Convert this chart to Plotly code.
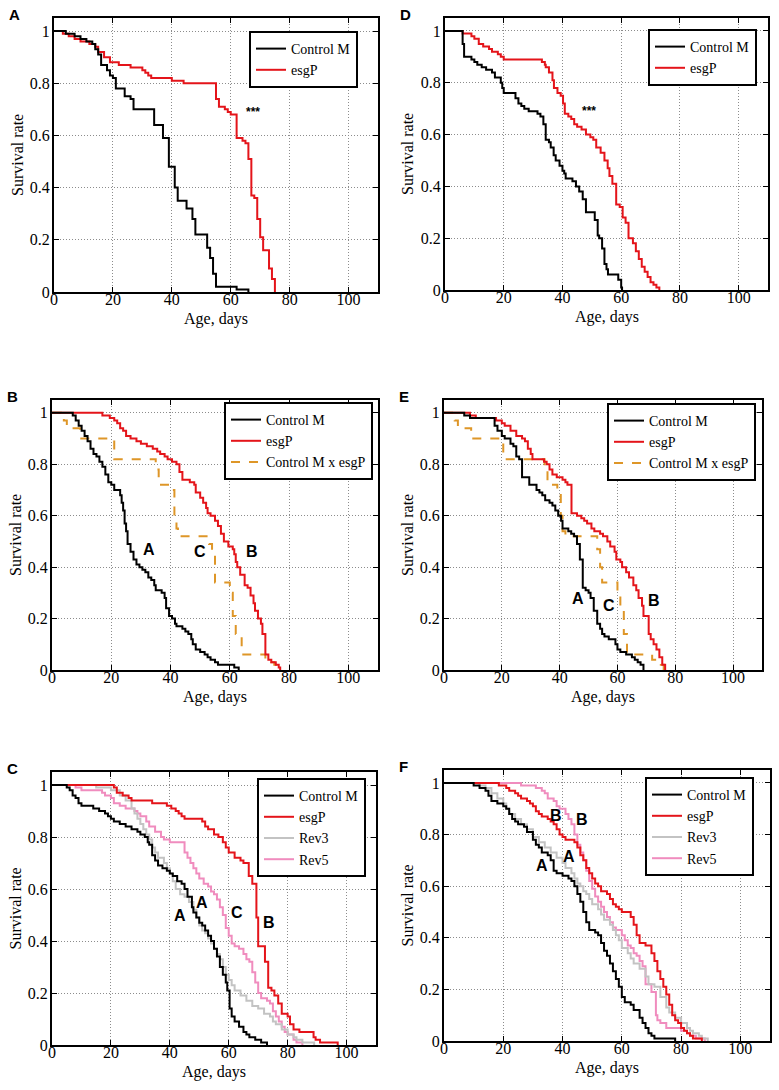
import plotly.graph_objects as go
from plotly.subplots import make_subplots

W, H = 779, 1090
SERIF = "Liberation Serif, Times New Roman, serif"
SANS = "Liberation Sans, Arial, sans-serif"

# survival curves: (age in days, survival rate) at each step
A_CTRL = [(0, 1), (4, 0.99), (7, 0.98), (9, 0.97), (11, 0.96), (13, 0.95), (14, 0.93), (15, 0.91),
          (16, 0.87), (18, 0.85), (19, 0.83), (20, 0.82), (21, 0.78), (24, 0.75), (26, 0.74), (27, 0.70),
          (34, 0.64), (37, 0.59), (39, 0.48), (41, 0.40), (42, 0.35), (45, 0.32), (47, 0.28), (48, 0.22),
          (52, 0.17), (53, 0.13), (54, 0.07), (55, 0.02), (62, 0.01), (66, 0)]
A_ESGP = [(0, 1), (3, 0.99), (5, 0.98), (7, 0.97), (9, 0.96), (12, 0.95), (14, 0.94), (15, 0.92),
          (17, 0.90), (19, 0.88), (22, 0.87), (26, 0.86), (30, 0.85), (31, 0.84), (32, 0.83), (33, 0.82),
          (40, 0.81), (44, 0.80), (55, 0.74), (56, 0.71), (58, 0.70), (59, 0.69), (60, 0.68), (62, 0.59),
          (64, 0.58), (65, 0.57), (66, 0.51), (67, 0.37), (68, 0.36), (69, 0.28), (70, 0.21), (71, 0.16),
          (73, 0.09), (74, 0.05), (75, 0)]

D_CTRL = [(0, 1), (6, 0.95), (6.5, 0.90), (9, 0.89), (10, 0.88), (11, 0.87), (12.5, 0.86), (14, 0.85),
          (16, 0.84), (17, 0.82), (19, 0.80), (19.5, 0.78), (20, 0.76), (24, 0.74), (25, 0.72), (26, 0.71),
          (27, 0.70), (28.5, 0.69), (31.5, 0.68), (32.5, 0.67), (33.5, 0.64), (34.3, 0.58), (35.4, 0.57),
          (36, 0.55), (37, 0.52), (37.7, 0.50), (39, 0.48), (40, 0.46), (40.6, 0.45), (41.1, 0.43),
          (43.4, 0.42), (44.6, 0.40), (45.7, 0.38), (46.9, 0.35), (48, 0.30), (51, 0.27), (52, 0.21),
          (52.5, 0.20), (53.5, 0.16), (54.3, 0.10), (55, 0.08), (55.5, 0.06), (59, 0.04), (60, 0.01), (60.3, 0)]
D_ESGP = [(0, 1), (6, 0.99), (9, 0.98), (10, 0.97), (11.5, 0.95), (13, 0.94), (15, 0.93), (16, 0.92),
          (18, 0.91), (19, 0.90), (20, 0.89), (33, 0.88), (34, 0.87), (34.3, 0.86), (35.4, 0.84), (36.6, 0.81),
          (37.1, 0.78), (38.3, 0.76), (39.4, 0.75), (40.2, 0.72), (40.8, 0.68), (42, 0.67), (43, 0.66),
          (44, 0.64), (45, 0.63), (46.5, 0.62), (48, 0.60), (49.5, 0.59), (50.5, 0.58), (51.5, 0.55),
          (53, 0.53), (54.3, 0.50), (55.4, 0.47), (56, 0.44), (57, 0.41), (58.3, 0.33), (59.5, 0.32),
          (60.5, 0.28), (61.5, 0.26), (62.5, 0.20), (64, 0.18), (65, 0.15), (66, 0.12), (67, 0.09),
          (68, 0.07), (69, 0.05), (70, 0.03), (71, 0.02), (72, 0.01), (73, 0)]

B_CTRL = [(0, 1), (7, 0.99), (8, 0.97), (9, 0.95), (10, 0.93), (11, 0.91), (12, 0.89), (13, 0.86),
          (14, 0.84), (15, 0.83), (16, 0.81), (17, 0.79), (18, 0.76), (19, 0.73), (20, 0.72), (21, 0.70),
          (23, 0.68), (23.5, 0.65), (24, 0.62), (24.5, 0.57), (25, 0.54), (25.5, 0.49), (26.5, 0.46),
          (27.5, 0.43), (28.5, 0.41), (29.5, 0.40), (30.5, 0.39), (31.5, 0.38), (32.5, 0.36), (33.5, 0.35),
          (34.5, 0.33), (35, 0.31), (37, 0.30), (38, 0.28), (38.5, 0.24), (39.5, 0.21), (40.5, 0.20),
          (41.5, 0.18), (42, 0.17), (44, 0.16), (45, 0.15), (46, 0.14), (47, 0.12), (47.5, 0.10),
          (48.5, 0.08), (50, 0.07), (51.5, 0.06), (52.5, 0.05), (53.5, 0.04), (55, 0.03), (56, 0.02),
          (61.5, 0.01), (63, 0)]
B_ESGP = [(0, 1), (17, 0.99), (19.5, 0.98), (21, 0.97), (22, 0.96), (23, 0.94), (24, 0.93), (25, 0.91),
          (26.5, 0.90), (28.5, 0.89), (30, 0.88), (32, 0.87), (34, 0.86), (35.5, 0.85), (36.5, 0.84),
          (38, 0.83), (39, 0.82), (40.5, 0.81), (42, 0.80), (43, 0.77), (44, 0.74), (46.5, 0.73), (48, 0.72),
          (48.5, 0.69), (50, 0.67), (51, 0.65), (52, 0.63), (52.5, 0.61), (53.5, 0.60), (55, 0.58),
          (56, 0.56), (57, 0.53), (58, 0.50), (59.5, 0.48), (61, 0.47), (61.5, 0.45), (62, 0.42),
          (62.5, 0.40), (63.5, 0.37), (65, 0.33), (66, 0.32), (67, 0.29), (68, 0.26), (68.5, 0.23),
          (69.5, 0.20), (70.5, 0.18), (71, 0.14), (72, 0.06), (73, 0.04), (74, 0.03), (75.5, 0.02),
          (76.5, 0.01), (77, 0)]
B_CROSS = [(0, 1), (3, 0.99), (4, 0.97), (5, 0.94), (9.5, 0.90), (21, 0.82), (35, 0.78), (36, 0.72),
           (39.5, 0.70), (41.3, 0.60), (42, 0.55), (42.5, 0.52), (53, 0.49), (54, 0.44), (55, 0.34),
           (60, 0.30), (61, 0.21), (62, 0.14), (64, 0.06), (72, 0.04), (74, 0.03), (75, 0.02), (76, 0)]

E_CTRL = [(0, 1), (7, 0.99), (9, 0.98), (17.5, 0.95), (18.5, 0.93), (20, 0.91), (21, 0.90), (23, 0.88),
          (24, 0.87), (25, 0.83), (26, 0.82), (27, 0.75), (29.5, 0.72), (32, 0.70), (33, 0.69), (34, 0.68),
          (35, 0.66), (36.5, 0.65), (37.5, 0.64), (38.5, 0.62), (39.5, 0.60), (40.5, 0.58), (41, 0.55),
          (43, 0.54), (44, 0.53), (45, 0.52), (46, 0.49), (47, 0.43), (48, 0.32), (49, 0.31), (50, 0.30),
          (50.7, 0.28), (51.8, 0.23), (53, 0.18), (54, 0.16), (54.7, 0.14), (55.5, 0.13), (57, 0.12),
          (59.3, 0.10), (60, 0.08), (61, 0.07), (63, 0.06), (65, 0.05), (66, 0.04), (67, 0.03), (68, 0.02),
          (69, 0)]
E_ESGP = [(0, 1), (9, 0.99), (11, 0.98), (18, 0.97), (20, 0.96), (21, 0.95), (23, 0.93), (25, 0.91),
          (27, 0.90), (28, 0.89), (29, 0.86), (30, 0.84), (30.6, 0.82), (34.6, 0.81), (35.5, 0.80),
          (36.5, 0.78), (37.5, 0.76), (39, 0.75), (41, 0.74), (42, 0.73), (42.7, 0.72), (44.1, 0.61),
          (46, 0.60), (47.5, 0.59), (48.5, 0.58), (49.5, 0.57), (51, 0.55), (52, 0.54), (54, 0.53),
          (55, 0.52), (56.5, 0.50), (57.5, 0.48), (59, 0.46), (59.6, 0.43), (61, 0.42), (61.6, 0.40),
          (63, 0.38), (64, 0.36), (65.5, 0.33), (66.5, 0.31), (67.3, 0.28), (68.5, 0.25), (69, 0.21),
          (70.8, 0.14), (71.5, 0.12), (72.5, 0.10), (73.5, 0.08), (74.5, 0.05), (75.5, 0.02), (76.5, 0)]
E_CROSS = [(0, 1), (3.7, 0.97), (4.8, 0.94), (9.4, 0.90), (20.5, 0.82), (34.8, 0.78), (35.8, 0.72),
           (39.2, 0.70), (40.4, 0.60), (41, 0.54), (42, 0.52), (53, 0.47), (54, 0.40), (54.7, 0.34),
           (60, 0.30), (61, 0.23), (62.2, 0.14), (63.3, 0.06), (72, 0.04), (75, 0.02), (76, 0)]

C_CTRL = [(0, 1), (5, 0.99), (6, 0.98), (7, 0.96), (8, 0.95), (9, 0.93), (10, 0.92), (14, 0.91),
          (16, 0.90), (18, 0.89), (19, 0.88), (20, 0.87), (21, 0.86), (23, 0.85), (25, 0.84), (27, 0.83),
          (29, 0.82), (30, 0.81), (31.5, 0.80), (32.5, 0.78), (33, 0.77), (34, 0.73), (35, 0.71), (36, 0.69),
          (37.5, 0.68), (39, 0.67), (40, 0.66), (41, 0.65), (42.5, 0.63), (44, 0.62), (45, 0.60), (46, 0.57),
          (47.5, 0.53), (48, 0.51), (49, 0.49), (50, 0.47), (51, 0.46), (52, 0.44), (53, 0.42), (54, 0.40),
          (55, 0.37), (56, 0.34), (57, 0.30), (58, 0.27), (59, 0.24), (59.5, 0.21), (60.3, 0.14), (61, 0.11),
          (62, 0.09), (63.5, 0.07), (65, 0.05), (66, 0.04), (67, 0.03), (69, 0.02), (71, 0.01), (73, 0)]
C_ESGP = [(0, 1), (21, 0.99), (22, 0.97), (24, 0.96), (26, 0.95), (27, 0.94), (34, 0.93), (39, 0.92),
          (40.5, 0.91), (42, 0.90), (43, 0.89), (44, 0.88), (45, 0.87), (51, 0.86), (52, 0.84), (53, 0.83),
          (55, 0.81), (56.5, 0.80), (58, 0.78), (59, 0.76), (60, 0.74), (62, 0.72), (64, 0.71), (65, 0.70),
          (66.8, 0.65), (68, 0.62), (69.4, 0.49), (70, 0.38), (72.3, 0.32), (73.4, 0.22), (74.5, 0.21),
          (75.5, 0.19), (76.8, 0.16), (78, 0.12), (80, 0.11), (80.8, 0.08), (82, 0.06), (84, 0.05),
          (88.8, 0.03), (89.5, 0.02), (91, 0.01), (97, 0)]
C_REV3 = [(0, 1), (15, 0.99), (20, 0.98), (23, 0.96), (25, 0.94), (27, 0.91), (28, 0.89), (29, 0.87),
          (30, 0.85), (31, 0.83), (32, 0.81), (33, 0.79), (34, 0.76), (35, 0.74), (36, 0.72), (38, 0.70),
          (39, 0.68), (40, 0.66), (41, 0.63), (42, 0.60), (43.5, 0.58), (45, 0.57), (46.5, 0.55), (48, 0.52),
          (49, 0.49), (50, 0.46), (51, 0.44), (52, 0.43), (53, 0.41), (54, 0.39), (55, 0.37), (56, 0.35),
          (57, 0.33), (58, 0.30), (59, 0.27), (60, 0.25), (61, 0.23), (62, 0.21), (64, 0.19), (66, 0.17),
          (68, 0.15), (70, 0.14), (72, 0.12), (74, 0.11), (75, 0.09), (76, 0.08), (78, 0.06), (80, 0.04),
          (82, 0.03), (83, 0.02), (85, 0.01), (89, 0)]
C_REV5 = [(0, 1), (8, 0.99), (10, 0.98), (17, 0.97), (18, 0.96), (20, 0.95), (21, 0.93), (23, 0.92),
          (25, 0.91), (28, 0.90), (29, 0.89), (30, 0.88), (32, 0.86), (33, 0.84), (35, 0.82), (37, 0.80),
          (38, 0.79), (40, 0.78), (45, 0.74), (46, 0.72), (47, 0.70), (48, 0.68), (49, 0.66), (50, 0.64),
          (51.5, 0.62), (53, 0.61), (54, 0.59), (55, 0.58), (56, 0.56), (57, 0.53), (58, 0.50), (59, 0.45),
          (60, 0.42), (61, 0.39), (62, 0.38), (63.5, 0.37), (65, 0.35), (66, 0.33), (67, 0.32), (68, 0.28),
          (69, 0.24), (70, 0.20), (71, 0.18), (73, 0.17), (74, 0.16), (75, 0.13), (76, 0.11), (77, 0.09),
          (78, 0.07), (79, 0.05), (80, 0.04), (82, 0.02), (83, 0.01), (85, 0)]

F_CTRL = [(0, 1), (10, 0.99), (12, 0.98), (14, 0.97), (15, 0.95), (16, 0.93), (18, 0.92), (20, 0.91),
          (21, 0.90), (22, 0.88), (23, 0.86), (24, 0.85), (25, 0.84), (27, 0.83), (28, 0.81), (30, 0.78),
          (31, 0.76), (32, 0.75), (33, 0.73), (35, 0.72), (36, 0.70), (37, 0.66), (38, 0.65), (40, 0.64),
          (42, 0.63), (43, 0.62), (44, 0.60), (45, 0.57), (46, 0.54), (47, 0.50), (48, 0.46), (49, 0.43),
          (51, 0.42), (52, 0.41), (53, 0.38), (54, 0.35), (55, 0.33), (56, 0.30), (57, 0.27), (58, 0.24),
          (59, 0.21), (60, 0.17), (61, 0.15), (63, 0.14), (64, 0.12), (66, 0.09), (67, 0.07), (68, 0.05),
          (69, 0.03), (70, 0.02), (71, 0.01), (78, 0)]
F_ESGP = [(0, 1), (18.5, 0.99), (21, 0.98), (22, 0.97), (24, 0.96), (25, 0.95), (26, 0.94), (28, 0.93),
          (29, 0.92), (30, 0.91), (31, 0.89), (32, 0.88), (33, 0.87), (35, 0.86), (36, 0.85), (37, 0.84),
          (38, 0.82), (39, 0.80), (40, 0.79), (41, 0.78), (44, 0.77), (45, 0.75), (46, 0.72), (47, 0.70),
          (48, 0.67), (49, 0.65), (50, 0.63), (51, 0.61), (52, 0.60), (53, 0.58), (55, 0.57), (56, 0.55),
          (57, 0.53), (58, 0.52), (59, 0.51), (60, 0.50), (63, 0.48), (64, 0.45), (65, 0.41), (66, 0.38),
          (68, 0.37), (70, 0.34), (71, 0.31), (72, 0.27), (73, 0.24), (74, 0.21), (75, 0.18), (76, 0.14),
          (77, 0.10), (78, 0.08), (79, 0.07), (80, 0.05), (81, 0.04), (82, 0.03), (83, 0.02), (84, 0.01),
          (87, 0)]
F_REV3 = [(0, 1), (12, 0.99), (14, 0.98), (16, 0.96), (18, 0.94), (20, 0.92), (21, 0.90), (22, 0.88),
          (24, 0.86), (26, 0.84), (28, 0.82), (30, 0.79), (32, 0.77), (34, 0.75), (36, 0.73), (38, 0.71),
          (40, 0.69), (41, 0.67), (43, 0.65), (44, 0.63), (45, 0.61), (46, 0.60), (47, 0.58), (48, 0.57),
          (49, 0.55), (50, 0.53), (52, 0.51), (53, 0.49), (54, 0.47), (56, 0.45), (57, 0.43), (58, 0.41),
          (59, 0.39), (60, 0.36), (62, 0.34), (63, 0.32), (64, 0.30), (66, 0.28), (68, 0.25), (69, 0.22),
          (71, 0.21), (73, 0.17), (75, 0.13), (76, 0.11), (78, 0.09), (80, 0.07), (82, 0.05), (83, 0.04),
          (84, 0.03), (86, 0.02), (87, 0.01), (89, 0)]
F_REV5 = [(0, 1), (26, 0.99), (31, 0.98), (33, 0.97), (34, 0.96), (35, 0.94), (37, 0.93), (38, 0.91),
          (39, 0.90), (41, 0.88), (42, 0.86), (43, 0.84), (44, 0.80), (45, 0.76), (46, 0.73), (47, 0.70),
          (48, 0.66), (49, 0.62), (50, 0.59), (51, 0.56), (52, 0.54), (53, 0.52), (54, 0.50), (55, 0.48),
          (56, 0.46), (57, 0.44), (58, 0.43), (60, 0.41), (61, 0.39), (62, 0.37), (63, 0.36), (64, 0.34),
          (65, 0.33), (66, 0.31), (67, 0.29), (68, 0.22), (70, 0.19), (71.5, 0.10), (72, 0.08), (73, 0.07),
          (75, 0.05), (80, 0.04), (82, 0.03), (83, 0.02), (85, 0.01), (88, 0)]

# letter labels inside the panels: (text, age, survival)
A_MARKS = [("***", 67.7, 0.69)]
D_MARKS = [("***", 49.1, 0.69)]
B_MARKS = [("A", 32.7, 0.47), ("C", 50.1, 0.46), ("B", 67.6, 0.46)]
E_MARKS = [("A", 46.3, 0.28), ("C", 57.0, 0.25), ("B", 72.7, 0.27)]
C_MARKS = [("A", 43.5, 0.50), ("A", 50.8, 0.55), ("C", 62.8, 0.51), ("B", 73.7, 0.47)]
F_MARKS = [("B", 37.7, 0.875), ("B", 46.7, 0.858), ("A", 33.2, 0.68), ("A", 42.2, 0.716)]

STYLES = {
    "Control M": dict(color="black", dash="solid"),
    "esgP": dict(color="rgb(228,20,26)", dash="solid"),
    "Control M x esgP": dict(color="rgb(222,150,40)", dash="dash"),
    "Rev3": dict(color="rgb(195,195,195)", dash="solid"),
    "Rev5": dict(color="rgb(240,140,190)", dash="solid"),
}

# panel: letter, axes box in pixels (left, top, right, bottom), curves, marks, legend box (right, top)
panels = [
    ("A", (54, 18, 378, 292), [("Control M", A_CTRL), ("esgP", A_ESGP)], A_MARKS, (358, 31)),
    ("D", (445, 18, 768, 290), [("Control M", D_CTRL), ("esgP", D_ESGP)], D_MARKS, (757, 29)),
    ("B", (52, 400, 378, 670), [("Control M", B_CTRL), ("esgP", B_ESGP), ("Control M x esgP", B_CROSS)],
     B_MARKS, (373, 402)),
    ("E", (444, 400, 762, 670), [("Control M", E_CTRL), ("esgP", E_ESGP), ("Control M x esgP", E_CROSS)],
     E_MARKS, (756, 403)),
    ("C", (52, 772, 376, 1045), [("Control M", C_CTRL), ("esgP", C_ESGP), ("Rev3", C_REV3), ("Rev5", C_REV5)],
     C_MARKS, (366, 778)),
    ("F", (444, 770, 770, 1041), [("Control M", F_CTRL), ("esgP", F_ESGP), ("Rev3", F_REV3), ("Rev5", F_REV5)],
     F_MARKS, (754, 777)),
]

fig = make_subplots(rows=3, cols=2)
layout = {}
annotations = []

for i, (letter, box, curves, marks, leg) in enumerate(panels):
    row, col = i // 2 + 1, i % 2 + 1
    left, top, right, bottom = box
    sfx = "" if i == 0 else str(i + 1)
    legend_name = "legend" + sfx
    names = [c[0] for c in curves]

    # draw later curves first so Control M / esgP sit on top
    for name, pts in reversed(curves):
        ages, surv = zip(*pts)
        st = STYLES[name]
        fig.add_trace(
            go.Scatter(
                x=ages, y=surv, mode="lines", name=name, line_shape="hv",
                line=dict(color=st["color"], dash=st["dash"], width=2),
                legend=legend_name, legendrank=names.index(name),
            ),
            row=row, col=col,
        )

    layout["xaxis" + sfx] = dict(domain=[left / W, right / W])
    layout["yaxis" + sfx] = dict(domain=[1 - bottom / H, 1 - top / H])
    layout[legend_name] = dict(
        x=leg[0] / W, y=1 - leg[1] / H, xanchor="right", yanchor="top",
        bordercolor="black", borderwidth=2, bgcolor="white",
        font=dict(family=SERIF, size=14, color="black"),
        tracegroupgap=0, traceorder="normal", itemwidth=30,
    )

    annotations.append(dict(
        text=letter, x=(left - 40) / W, y=1 - (top - 4) / H, xref="paper", yref="paper",
        showarrow=False, xanchor="center", yanchor="middle",
        font=dict(family=SANS, size=15, color="black", weight="bold"),
    ))
    annotations.append(dict(
        text="Survival rate", x=(left - 37) / W, y=1 - (top + bottom) / 2 / H,
        xref="paper", yref="paper", showarrow=False, textangle=-90,
        xanchor="center", yanchor="middle", font=dict(family=SERIF, size=16, color="black"),
    ))
    annotations.append(dict(
        text="Age, days", x=(left + right) / 2 / W, y=1 - (bottom + 27) / H,
        xref="paper", yref="paper", showarrow=False, borderpad=0,
        xanchor="center", yanchor="middle", font=dict(family=SERIF, size=16, color="black"),
    ))
    for txt, ax, ay in marks:
        annotations.append(dict(
            text=txt, x=ax, y=ay, xref="x" + sfx, yref="y" + sfx, showarrow=False,
            font=dict(family=SANS, size=12 if txt == "***" else 16, color="black", weight="bold"),
        ))

fig.update_layout(**layout)
axis_style = dict(
    showline=True, linecolor="black", linewidth=2, mirror="allticks",
    ticks="inside", ticklen=5, tickcolor="black", tickwidth=1,
    showgrid=True, gridcolor="rgb(140,140,140)", griddash="1px,2px", gridwidth=1,
    zeroline=False, automargin=False,
    tickfont=dict(family=SERIF, size=16, color="black"),
)
fig.update_xaxes(range=[0, 110], dtick=20, ticklabelstandoff=-8, **axis_style)
fig.update_yaxes(range=[0, 1.05], dtick=0.2, ticklabelstandoff=-1, **axis_style)
fig.update_layout(
    template="none",
    width=W, height=H, margin=dict(l=0, r=0, t=0, b=0),
    plot_bgcolor="white", paper_bgcolor="white",
    annotations=annotations, showlegend=True,
)

# drop the page's default body margin so the figure starts at the window corner
fig.write_html(
    "out.html",
    config={"displayModeBar": False},
    post_script="document.body.style.margin = '0';",
)
